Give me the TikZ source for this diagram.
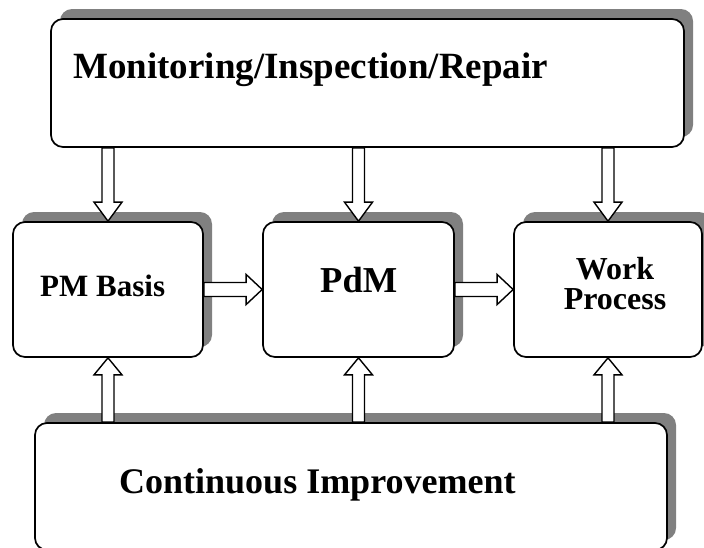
\documentclass[tikz,border=0pt]{standalone}
\usepackage{fontspec}
\setmainfont{Liberation Serif}
\usetikzlibrary{calc,shadows}
\definecolor{shade}{RGB}{128,128,128}
\tikzset{
  box/.style={draw=black, line width=1.7pt, fill=white, rounded corners=12pt, inner sep=0pt,
    drop shadow={shadow xshift=9pt, shadow yshift=10pt, fill=shade, opacity=1}},
  blk/.style={draw=black, line width=1.4pt, fill=white, line join=miter},
  lbl/.style={inner sep=0pt},
}
\newcommand\blockarrow[5]{%
  \path ($(#2)!#5!(#1)$) coordinate (hb);
  \draw[blk] ($(#1)!#3!90:(#2)$) -- ($(hb)!#3!90:(#2)$) -- ($(hb)!#4!90:(#2)$) -- (#2)
    -- ($(hb)!#4!-90:(#2)$) -- ($(hb)!#3!-90:(#2)$) -- ($(#1)!#3!-90:(#2)$) -- cycle;
}
\begin{document}
\begin{tikzpicture}[x=1pt,y=-1pt]
\useasboundingbox (0,0) rectangle (704,547);
\clip (0,0) rectangle (704,547);
\node[box, minimum width=633pt, minimum height=128pt] (mon) at (367.5,83) {};
\node[box, minimum width=190pt, minimum height=135pt] (pm) at (108,289.5) {};
\node[box, minimum width=191pt, minimum height=135pt] (pdm) at (358.5,289.5) {};
\node[box, minimum width=188pt, minimum height=135pt] (wp) at (608,289.5) {};
\node[box, minimum width=632pt, minimum height=127pt] (ci) at (351,486.5) {};

\node[lbl, anchor=base west, font=\bfseries\fontsize{37}{37}\selectfont] (tmon) at (73,78) {Monitoring/Inspection/Repair};
\node[lbl, anchor=base west, font=\bfseries\fontsize{31}{31}\selectfont] (tpm) at (40,296) {PM Basis};
\node[lbl, anchor=base west, font=\bfseries\fontsize{36.5}{36.5}\selectfont] (tpdm) at (320,292) {PdM};
\node[lbl, anchor=base, font=\bfseries\fontsize{32}{32}\selectfont] (twork) at (615,279) {Work};
\node[lbl, anchor=base, font=\bfseries\fontsize{32}{32}\selectfont] (tproc) at (615,309) {Process};
\node[lbl, anchor=base west, font=\bfseries\fontsize{36}{36}\selectfont] (tci) at (119,493) {Continuous Improvement};

\coordinate (d1) at (mon.south -| pm.north);
\coordinate (d2) at (mon.south -| pdm.north);
\coordinate (d3) at (mon.south -| wp.north);
\coordinate (u1) at (ci.north -| pm.south);
\coordinate (u2) at (ci.north -| pdm.south);
\coordinate (u3) at (ci.north -| wp.south);
\blockarrow{d1}{pm.north}{6pt}{14pt}{19pt}
\blockarrow{d2}{pdm.north}{6pt}{14pt}{19pt}
\blockarrow{d3}{wp.north}{6pt}{14pt}{19pt}
\blockarrow{u1}{pm.south}{6pt}{14pt}{17pt}
\blockarrow{u2}{pdm.south}{6pt}{14pt}{17pt}
\blockarrow{u3}{wp.south}{6pt}{14pt}{17pt}
\blockarrow{pm.east}{pdm.west}{7pt}{15pt}{16pt}
\blockarrow{pdm.east}{wp.west}{7pt}{15pt}{16pt}
\end{tikzpicture}
\end{document}
